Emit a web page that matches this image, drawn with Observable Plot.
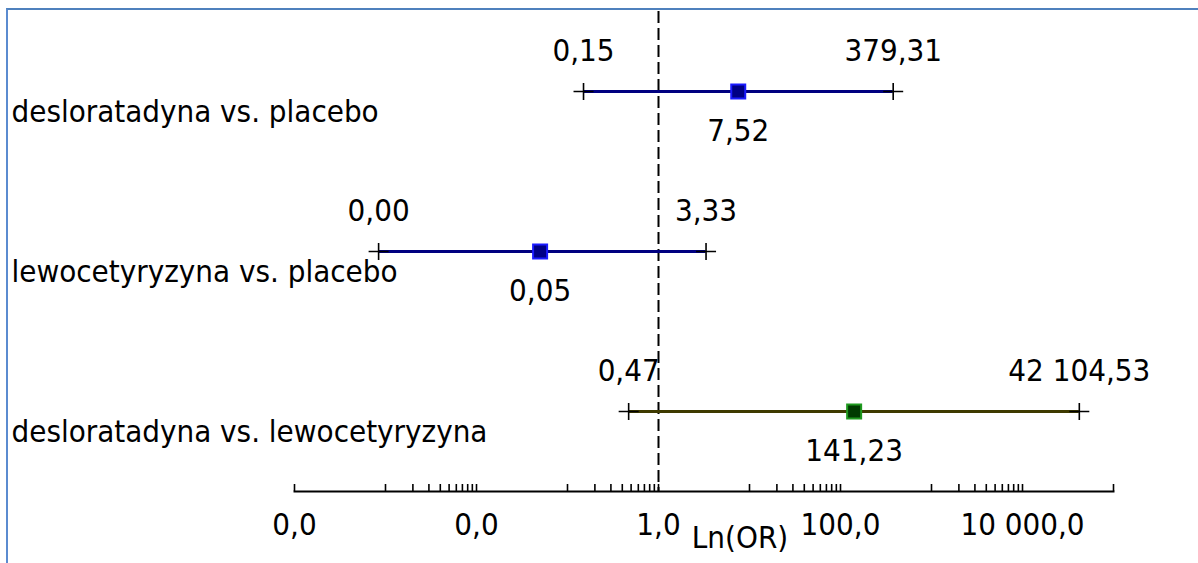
<!DOCTYPE html>
<html>
<head>
<meta charset="utf-8">
<script src="https://cdn.jsdelivr.net/npm/d3@7"></script>
<script src="https://cdn.jsdelivr.net/npm/@observablehq/plot@0.6"></script>
<style>
  html, body { margin: 0; padding: 0; background: #fff; overflow: hidden; }
  #wrap { position: relative; width: 1198px; height: 563px; }
  #border { position: absolute; left: 6px; top: 8px; width: 1300px; height: 700px;
            border-left: 2px solid #5b8bd0; border-top: 2px solid #4f81bd; box-sizing: border-box; }
  #chart { position: absolute; left: 0; top: 0; }
  svg { font-family: "DejaVu Sans Condensed", "DejaVu Sans", sans-serif; }
</style>
</head>
<body>
<div id="wrap"><div id="border"></div><div id="chart"></div></div>
<script>
// ---- data ----
const comparisons = ["desloratadyna vs. placebo", "lewocetyryzyna vs. placebo", "desloratadyna vs. lewocetyryzyna"];
const orValues = [7.52, 0.05, 141.23];
const lowerCI = [0.15, 0.00084, 0.47];
const upperCI = [379.31, 3.33, 42104.53];
const orLabels = ["7,52", "0,05", "141,23"];
const lowerLabels = ["0,15", "0,00", "0,47"];
const upperLabels = ["379,31", "3,33", "42 104,53"];
const groups = ["placebo", "placebo", "head"];
const majorTicks = [1e-4, 1e-2, 1, 100, 1e4];
const majorTickLabels = ["0,0", "0,0", "1,0", "100,0", "10 000,0"];
const axisLabel = "Ln(OR)";

// minor ticks: full decade subdivisions in alternating decades, plus ends
const minorTicks = [1e-4, 1e-2, 1, 100, 1e4, 1e5];
for (const e of [-3, -1, 1, 3]) for (let k = 1; k <= 9; k++) minorTicks.push(k * Math.pow(10, e));

const rows = comparisons.map((name, i) => ({
  name, or: orValues[i], lower: lowerCI[i], upper: upperCI[i],
  orLabel: orLabels[i], lowerLabel: lowerLabels[i], upperLabel: upperLabels[i], group: groups[i]
}));
const ends = rows.flatMap(r => [{name: r.name, x: r.lower}, {name: r.name, x: r.upper}]);

const lineColor = d => d.group === "head" ? "#3e3a00" : "#000080";
const dotFill = d => d.group === "head" ? "#003a00" : "#000085";
const dotStroke = d => d.group === "head" ? "#1f9a1f" : "#1a1aff";

const thinPlus = {
  draw(ctx) {
    ctx.moveTo(-10, 0); ctx.lineTo(10, 0);
    ctx.moveTo(0, -8.5); ctx.lineTo(0, 8.5);
  }
};

const FS = 31;
const plot = Plot.plot({
  width: 1198,
  height: 563,
  marginLeft: 294,
  marginRight: 85,
  marginTop: 11,
  marginBottom: 72,
  style: {fontSize: FS + "px", fontFamily: "'DejaVu Sans Condensed', 'DejaVu Sans', sans-serif", color: "#000", background: "transparent"},
  x: {type: "log", domain: [1e-4, 1e5], axis: null},
  y: {type: "point", domain: comparisons, padding: 0.5, axis: null},
  marks: [
    Plot.ruleX([1], {stroke: "#000", strokeWidth: 2, strokeDasharray: "12,5"}),
    Plot.frame({anchor: "bottom", stroke: "#000", strokeWidth: 2}),
    Plot.axisX({ticks: minorTicks, tickSize: -7, tickFormat: () => "", strokeWidth: 1.6, anchor: "bottom", label: null}),
    Plot.text(majorTicks, {x: d => d, text: (d, i) => majorTickLabels[i], frameAnchor: "bottom", dy: 34, lineAnchor: "middle", fill: "#000"}),
    Plot.text([axisLabel], {text: d => d, frameAnchor: "bottom", dx: 36, dy: 47, lineAnchor: "middle", fill: "#000"}),
    Plot.ruleY(rows, {y: "name", x1: "lower", x2: "upper", stroke: lineColor, strokeWidth: 3}),
    Plot.dot(ends, {x: "x", y: "name", symbol: thinPlus, r: 5, fill: "none", stroke: "#000", strokeWidth: 1.6}),
    Plot.dot(rows, {x: "or", y: "name", symbol: "square", r: 7.9, fill: dotFill, stroke: dotStroke, strokeWidth: 2}),
    Plot.text(rows, {x: "lower", y: "name", text: "lowerLabel", dy: -40, lineAnchor: "middle", fill: "#000"}),
    Plot.text(rows, {x: "upper", y: "name", text: "upperLabel", dy: -40, lineAnchor: "middle", fill: "#000"}),
    Plot.text(rows, {x: "or", y: "name", text: "orLabel", dy: 40, lineAnchor: "middle", fill: "#000"}),
    Plot.text(rows, {y: "name", text: "name", frameAnchor: "left", textAnchor: "start", dx: -283, dy: 21, lineAnchor: "middle", fill: "#000"})
  ]
});
document.getElementById("chart").appendChild(plot);
</script>
</body>
</html>
